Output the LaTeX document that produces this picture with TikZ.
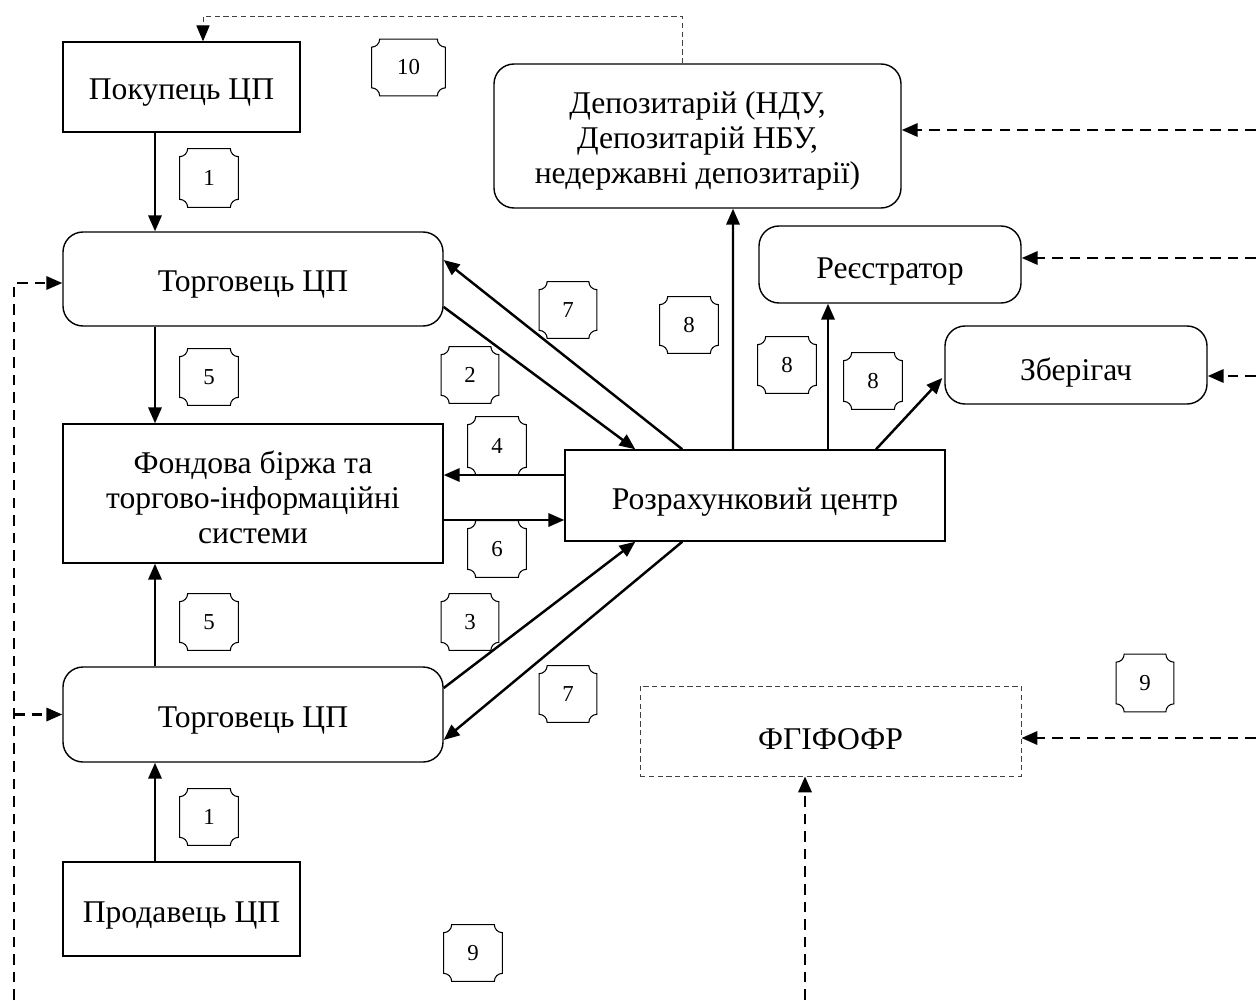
\documentclass[tikz,border=0pt]{standalone}
\usepackage{fontspec}
\setmainfont{Liberation Serif}
\usetikzlibrary{arrows.meta,calc}
\def\plaqr{0.16cm}
% numbered plaque: name, x, y, width, height, label
\newcommand\plaque[6]{%
  \node[badge,minimum width=#4*0.02cm,minimum height=#5*0.02cm] (#1) at (#2,#3) {#6};
  \draw[badgeline] ([yshift=-\plaqr]#1.north west) arc[start angle=-90,end angle=0,radius=\plaqr]
    -- ([xshift=-\plaqr]#1.north east) arc[start angle=180,end angle=270,radius=\plaqr]
    -- ([yshift=\plaqr]#1.south east) arc[start angle=90,end angle=180,radius=\plaqr]
    -- ([xshift=\plaqr]#1.south west) arc[start angle=0,end angle=90,radius=\plaqr] -- cycle;
}
\tikzset{
  box/.style={draw, line width=0.8pt, inner sep=0pt},
  rbox/.style={box, rounded corners=0.4cm},
  lbl/.style={align=center, inner sep=0pt, font=\fontsize{18}{19.8}\selectfont},
  badge/.style={inner sep=0pt, font=\fontsize{13}{14}\selectfont},
  badgeline/.style={line width=0.6pt},
  arr/.style={line width=1.4pt, -{Triangle[length=9pt,width=7.5pt]}},
  darr/.style={line width=1.4pt, dash pattern=on 6pt off 4pt,
    -{Triangle[length=9pt,width=7.5pt]}},
  tdash/.style={line width=0.5pt, black!75, dash pattern=on 3pt off 2pt},
}
\begin{document}
\begin{tikzpicture}[x=0.02cm, y=-0.02cm]
\useasboundingbox (0,0) rectangle (1256,1000);

% boxes
\node[box, minimum width=237*0.02cm, minimum height=90*0.02cm] (buyer) at (181.5,87) {};
\node[rbox, minimum width=380*0.02cm, minimum height=94*0.02cm] (trT) at (253,279) {};
\node[box, minimum width=380*0.02cm, minimum height=139*0.02cm] (exch) at (253,493.5) {};
\node[rbox, minimum width=380*0.02cm, minimum height=95*0.02cm] (trB) at (253,714.5) {};
\node[box, minimum width=237*0.02cm, minimum height=94*0.02cm] (seller) at (181.5,909) {};
\node[rbox, minimum width=407*0.02cm, minimum height=144*0.02cm] (dep) at (697.5,136) {};
\node[rbox, minimum width=262*0.02cm, minimum height=77*0.02cm] (reg) at (890,264.5) {};
\node[rbox, minimum width=262*0.02cm, minimum height=78*0.02cm] (keep) at (1076,365) {};
\node[box, minimum width=380*0.02cm, minimum height=91*0.02cm] (rc) at (755,495.5) {};
\node[box, tdash, minimum width=381*0.02cm, minimum height=90*0.02cm] (fund) at (830.5,731) {};

% box labels
\node[lbl] (buyer-t)  at ($(buyer)+(0,6)$) {Покупець ЦП};
\node[lbl] (trT-t)    at ($(trT)+(0,6)$) {Торговець ЦП};
\node[lbl] (exch-t)   at ($(exch)+(0,4)$) {Фондова біржа та\\торгово-інформаційні\\системи};
\node[lbl] (trB-t)    at ($(trB)+(0,6)$) {Торговець ЦП};
\node[lbl] (seller-t) at ($(seller)+(0,6)$) {Продавець ЦП};
\node[lbl] (dep-t)    at ($(dep)+(0,5)$) {Депозитарій (НДУ,\\Депозитарій НБУ,\\недержавні депозитарії)};
\node[lbl] (reg-t)    at ($(reg)+(0,7)$) {Реєстратор};
\node[lbl] (keep-t)   at ($(keep)+(0,8)$) {Зберігач};
\node[lbl] (rc-t)     at ($(rc)+(0,7)$) {Розрахунковий центр};
\node[lbl] (fund-t)   at ($(fund)+(0,8)$) {ФГІФОФР};

% numbered plaques
\plaque{p10}{408.5}{67.5}{73}{56}{10}
\plaque{p1a}{209}{178}{58}{58}{1}
\plaque{p5a}{209}{377}{58}{56}{5}
\plaque{p2}{470}{375}{57}{56}{2}
\plaque{p4}{497}{446}{58}{58}{4}
\plaque{p6}{497}{549}{58}{56}{6}
\plaque{p5b}{209}{622}{58}{56}{5}
\plaque{p3}{470}{622}{57}{56}{3}
\plaque{p7a}{568}{310}{57}{56}{7}
\plaque{p7b}{568}{694}{57}{56}{7}
\plaque{p8a}{689}{325}{58}{56}{8}
\plaque{p8b}{787}{365}{58}{56}{8}
\plaque{p8c}{873}{381}{58}{56}{8}
\plaque{p9a}{1145}{683}{57}{57}{9}
\plaque{p9b}{473}{953}{58}{56}{9}
\plaque{p1b}{209}{817}{58}{56}{1}

% guide coordinates
\coordinate (colL) at (155,0);
\coordinate (edgeL) at (14,0);
\coordinate (edgeR) at (1256,0);
\coordinate (edgeB) at (0,1000);
\coordinate (topline) at (0,16);

% vertical chain on the left
\draw[arr] (buyer.south -| colL) -- (trT.north -| colL);
\draw[arr] (trT.south -| colL) -- (exch.north -| colL);
\draw[arr] (trB.north -| colL) -- (exch.south -| colL);
\draw[arr] (seller.north -| colL) -- (trB.south -| colL);

% traders and exchange to the clearing centre
\draw[arr] ($(trT.east)+(0,28)$) -- ($(rc.north west)+(71,0)$);
\draw[arr] ($(rc.north west)+(118,0)$) -- ($(trT.east)+(0,-19)$);
\draw[arr] ($(rc.west)+(0,-20.5)$) -- ($(exch.east)+(0,-18.5)$);
\draw[arr] ($(exch.east)+(0,26.5)$) -- ($(rc.west)+(0,24.5)$);
\draw[arr] ($(trB.east)+(0,-26.5)$) -- ($(rc.south west)+(71,0)$);
\draw[arr] ($(rc.south west)+(118,0)$) -- ($(trB.east)+(0,25.5)$);

% clearing centre to depositories
\draw[arr] ($(rc.north)+(-22,0)$) -- ($(dep.south)+(35.5,0)$);
\draw[arr] ($(rc.north)+(73,0)$) -- ($(reg.south)+(-62,0)$);
\draw[arr] ($(rc.north)+(121,0)$) -- ($(keep.west)+(-2,13)$);

% dashed links from the right edge
\draw[darr] ($(edgeR |- dep.east)+(0,-6)$) -- ($(dep.east)+(0,-6)$);
\draw[darr] ($(edgeR |- reg.east)+(0,-6.5)$) -- ($(reg.east)+(0,-6.5)$);
\draw[darr] ($(edgeR |- keep.east)+(0,11)$) -- ($(keep.east)+(0,11)$);
\draw[darr] ($(edgeR |- fund.east)+(0,7)$) -- ($(fund.east)+(0,7)$);

% dashed links from the left edge
\draw[darr] (edgeL |- edgeB) -- ($(edgeL |- trT.west)+(0,4)$) -- ($(trT.west)+(0,4)$);
\draw[darr] (edgeL |- trB.west) -- (trB.west);

% dashed link from the bottom edge
\draw[darr] ($(fund.south |- edgeB)+(-25.5,0)$) -- ($(fund.south)+(-25.5,0)$);

% thin dashed return line at the top
\draw[tdash, -{Triangle[length=9pt,width=7.5pt,color=black]}]
  ($(dep.north)+(-15.5,0)$) -- ($(dep.north |- topline)+(-15.5,0)$)
  -- ($(buyer.north |- topline)+(21.5,0)$) -- ($(buyer.north)+(21.5,0)$);
\end{tikzpicture}
\end{document}
